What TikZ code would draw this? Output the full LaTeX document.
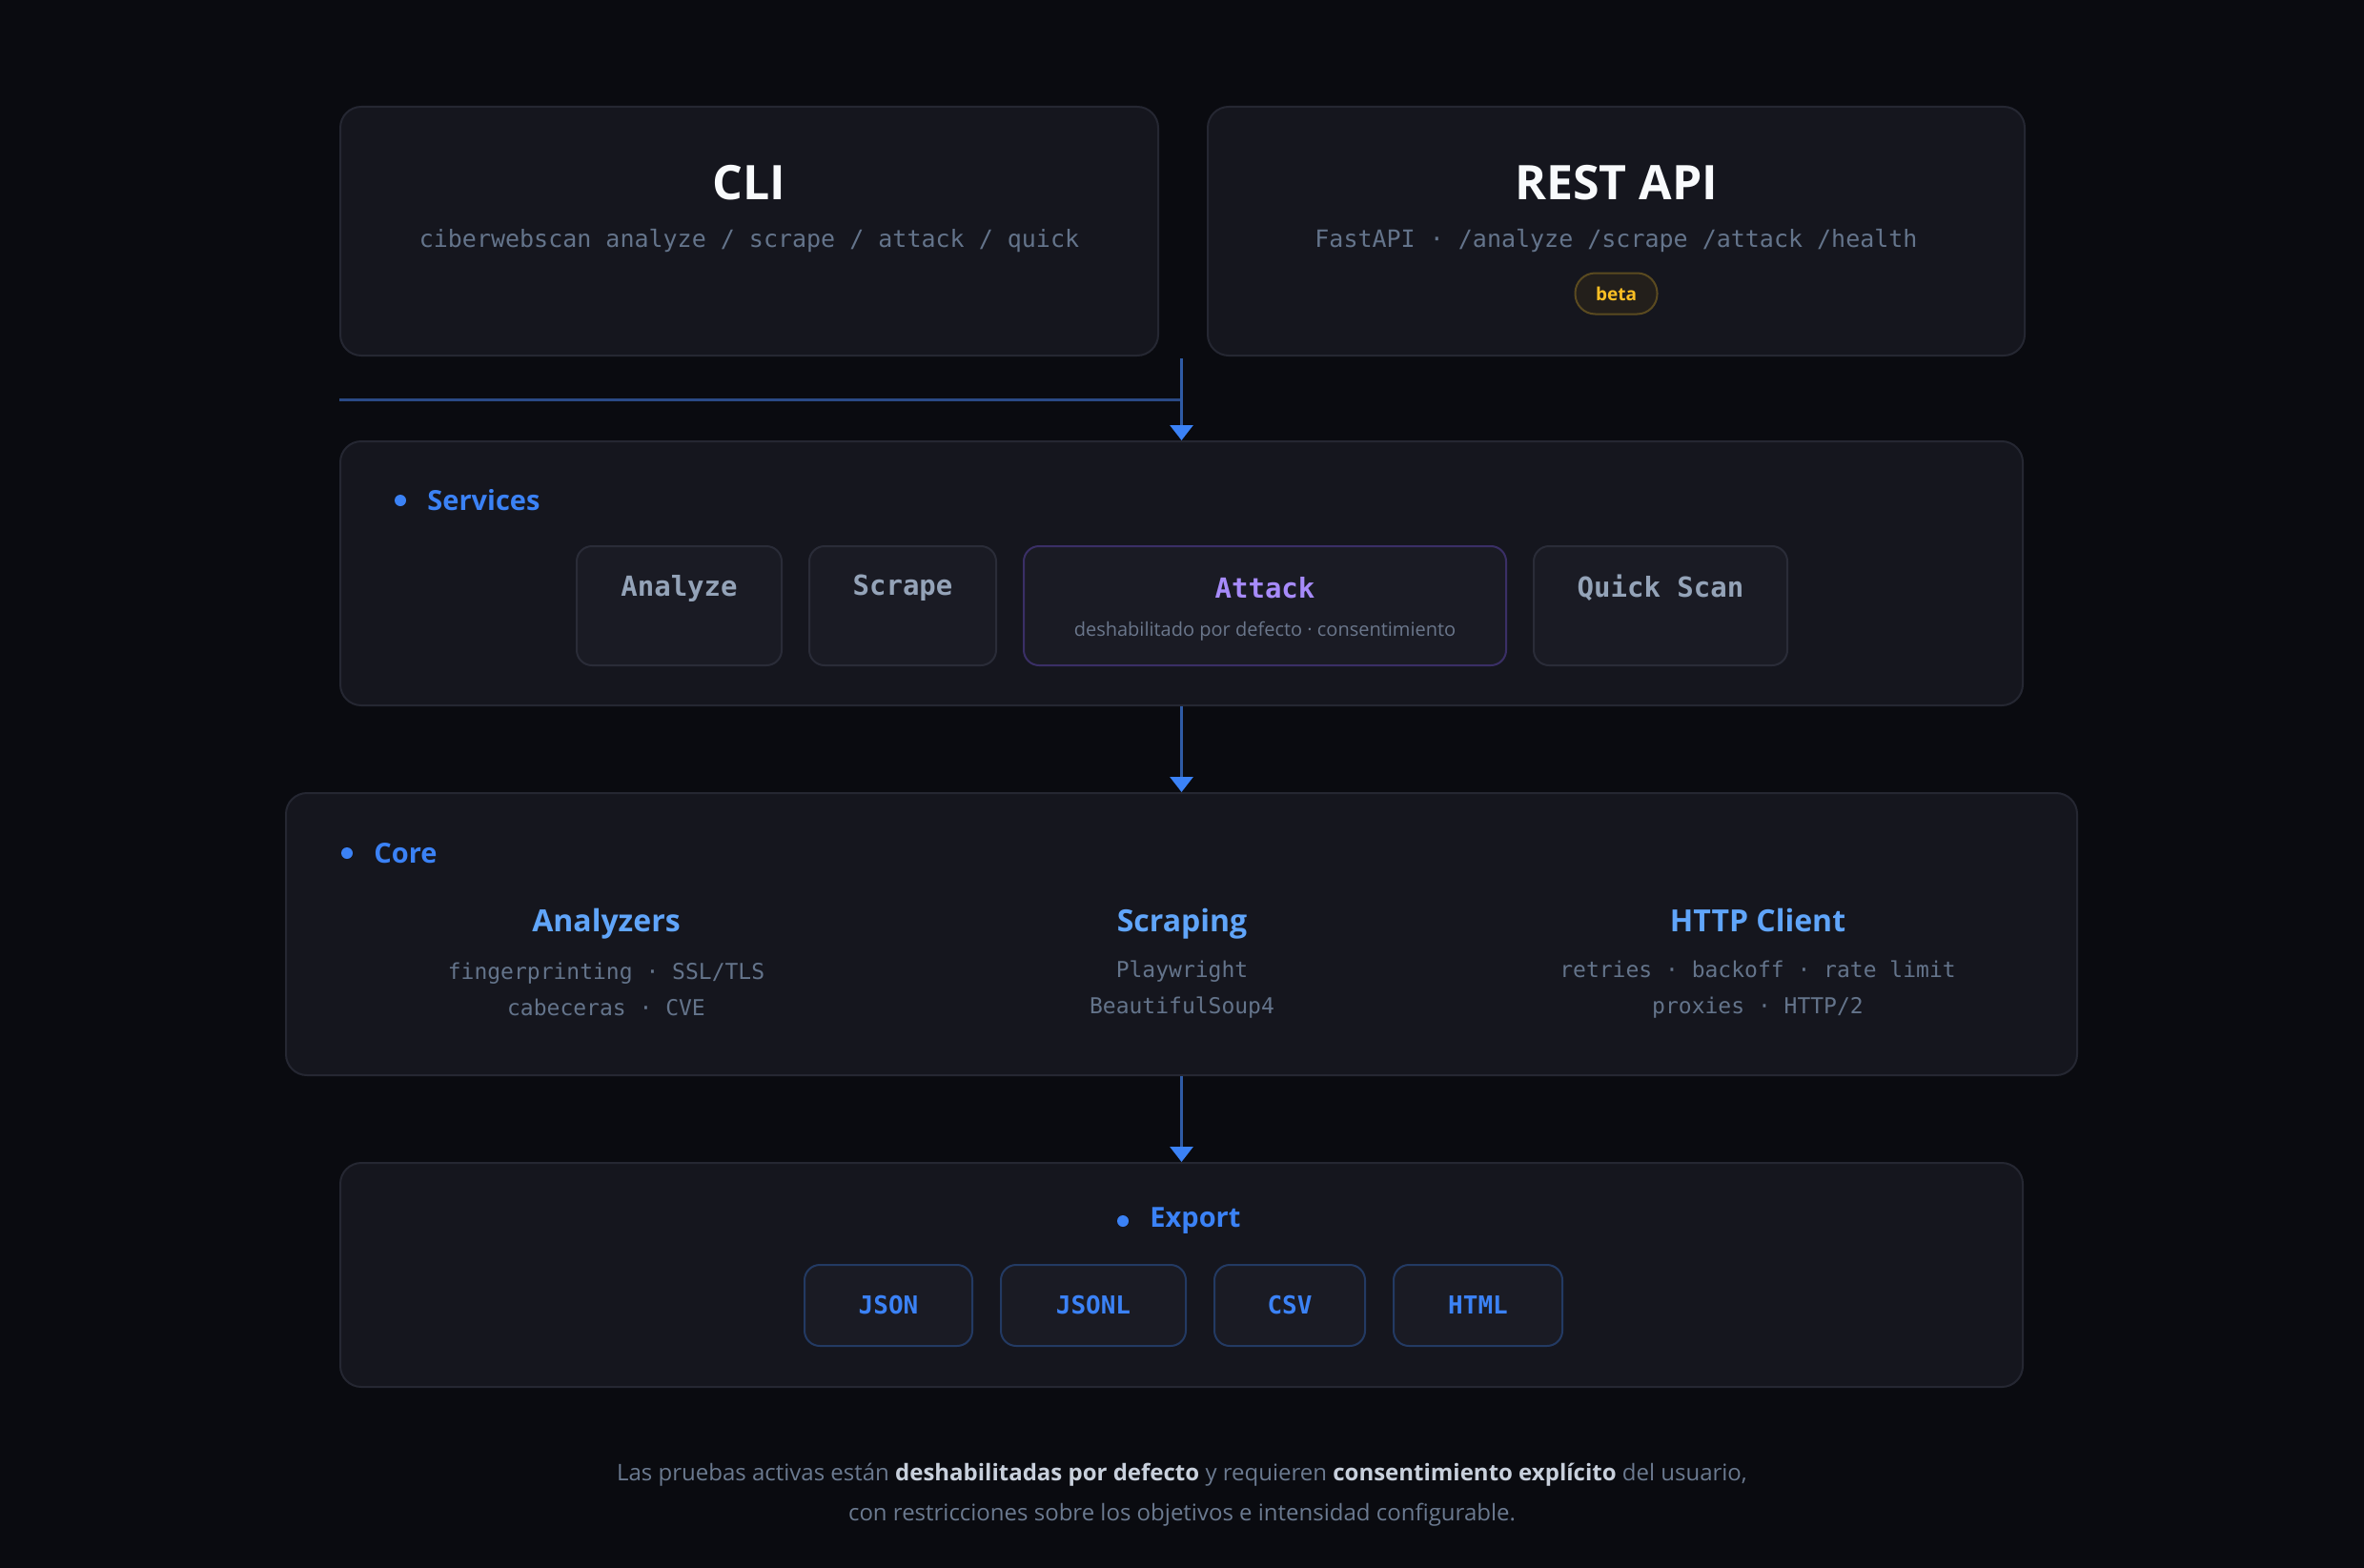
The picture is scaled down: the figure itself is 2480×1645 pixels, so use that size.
\documentclass[tikz,border=0pt]{standalone}
\usepackage{fontspec}
\setmainfont{Open Sans}
\setmonofont{DejaVu Sans Mono}
\usetikzlibrary{arrows.meta, positioning}

\definecolor{bg}{HTML}{0A0B10}
\definecolor{panelfill}{HTML}{15161E}
\definecolor{panelline}{HTML}{252732}
\definecolor{boxfill}{HTML}{1A1B24}
\definecolor{boxline}{HTML}{2A2C38}
\definecolor{attackline}{HTML}{3A2F66}
\definecolor{fmtline}{HTML}{233A63}
\definecolor{headwhite}{HTML}{F8FAFC}
\definecolor{cmdgray}{HTML}{64748B}
\definecolor{svcgray}{HTML}{94A3B8}
\definecolor{attackpurple}{HTML}{A78BFA}
\definecolor{subgray}{HTML}{6B778C}
\definecolor{sectionblue}{HTML}{3B82F6}
\definecolor{coreblue}{HTML}{60A5FA}
\definecolor{flowline}{HTML}{2F5BA5}
\definecolor{wireline}{HTML}{2A4A86}
\definecolor{betafill}{HTML}{231F1B}
\definecolor{betaline}{HTML}{5A4A20}
\definecolor{betatext}{HTML}{FBBF24}
\definecolor{notegray}{HTML}{6B7A90}
\definecolor{notebold}{HTML}{C8D0DC}

\tikzset{
    panel/.style={draw=panelline, fill=panelfill, line width=2pt, rounded corners=22pt},
    svcbox/.style={draw=boxline, fill=boxfill, line width=2pt, rounded corners=16pt, minimum height=125pt},
    fmtbox/.style={draw=fmtline, fill=boxfill, line width=2pt, rounded corners=16pt, minimum height=85pt,
        inner xsep=0pt, text=sectionblue, font=\fontsize{26pt}{32pt}\selectfont\ttfamily\bfseries},
    headtext/.style={text=headwhite, font=\fontsize{50pt}{60pt}\selectfont\bfseries},
    cmd/.style={text=cmdgray, font=\fontsize{25pt}{30pt}\selectfont\ttfamily},
    badge/.style={draw=betaline, fill=betafill, line width=2pt, rounded corners=21pt, minimum width=86pt,
        minimum height=43pt, text=betatext, font=\fontsize{19pt}{24pt}\selectfont\bfseries},
    dot/.style={circle, fill=sectionblue, minimum size=12pt, inner sep=0pt},
    section/.style={text=sectionblue, inner sep=0pt, font=\fontsize{29pt}{36pt}\selectfont\bfseries},
    svcname/.style={text=svcgray, font=\fontsize{29pt}{34pt}\selectfont\ttfamily\bfseries},
    svcnote/.style={text=subgray, font=\fontsize{20pt}{24pt}\selectfont},
    coretitle/.style={text=coreblue, anchor=base, font=\fontsize{32pt}{40pt}\selectfont\bfseries},
    coresub/.style={text=cmdgray, align=center, font=\fontsize{23pt}{38pt}\selectfont\ttfamily},
    footnote/.style={text=notegray, align=center, font=\fontsize{24pt}{42pt}\selectfont},
    flow/.style={draw=flowline, line width=3pt, -{Triangle[width=24pt, length=16pt, color=sectionblue]}},
    wire/.style={draw=wireline, line width=3pt}
}

\begin{document}
\begin{tikzpicture}[x=1pt, y=-1pt]
    % Background
    \fill[bg] (0,0) rectangle (2480,1645);
    \useasboundingbox (0,0) rectangle (2480,1645);

    % Entry points
    \node[panel, minimum width=858pt, minimum height=261pt] (cli) at (786,242.5) {};
    \node[panel, minimum width=857pt, minimum height=261pt, right=50pt of cli] (api) {};
    \node[headtext] (clititle) at ([yshift=-81pt]cli.north) {CLI};
    \node[cmd] (clicmd) at ([yshift=-142pt]cli.north) {ciberwebscan analyze / scrape / attack / quick};
    \node[headtext] (apititle) at ([yshift=-81pt]api.north) {REST API};
    \node[cmd] (apicmd) at ([yshift=-142pt]api.north) {FastAPI · /analyze /scrape /attack /health};
    \node[badge] (beta) at ([yshift=-197pt]api.north) {beta};

    % Services
    \node[panel, minimum width=1765pt, minimum height=277pt] (services) at (1239.5,601.5) {};
    \node[dot] (svcdot) at ([xshift=64pt, yshift=-63pt]services.north west) {};
    \node[section, right=22pt of svcdot] (svclabel) {Services};
    \node[svcbox, minimum width=215pt, anchor=north west] (analyze) at (604,572) {};
    \node[svcbox, minimum width=196pt, right=27pt of analyze] (scrape) {};
    \node[svcbox, draw=attackline, minimum width=506pt, right=27pt of scrape] (attack) {};
    \node[svcbox, minimum width=266pt, right=27pt of attack] (quick) {};
    \node[svcname] (analyzename) at ([yshift=-45pt]analyze.north) {Analyze};
    \node[svcname] (scrapename) at ([yshift=-45pt]scrape.north) {Scrape};
    \node[svcname, text=attackpurple] (attackname) at ([yshift=-45pt]attack.north) {Attack};
    \node[svcnote] (attacknote) at ([yshift=-90pt]attack.north) {deshabilitado por defecto · consentimiento};
    \node[svcname] (quickname) at ([yshift=-45pt]quick.north) {Quick Scan};

    % Core
    \node[panel, minimum width=1879pt, minimum height=296pt, below=90pt of services] (core) {};
    \node[dot] (coredot) at ([xshift=65pt, yshift=-64pt]core.north west) {};
    \node[section, right=22pt of coredot] (corelabel) {Core};
    \node[coretitle] (analyzers) at (636,977) {Analyzers};
    \node[coresub] (analyzerslist) at (636,1038) {fingerprinting · SSL/TLS\\cabeceras · CVE};
    \node[coretitle] (scraping) at (1240,977) {Scraping};
    \node[coresub] (scrapinglist) at (1240,1038) {Playwright\\BeautifulSoup4};
    \node[coretitle] (http) at (1844,977) {HTTP Client};
    \node[coresub] (httplist) at (1844,1038) {retries · backoff · rate limit\\proxies · HTTP/2};

    % Export
    \node[panel, minimum width=1765pt, minimum height=235pt, below=90pt of core] (export) {};
    \node[dot] (expdot) at (1178,1281) {};
    \node[section, right=22pt of expdot] (explabel) {Export};
    \node[fmtbox, minimum width=176pt, anchor=west] (json) at (843,1369.5) {JSON};
    \node[fmtbox, minimum width=194pt, right=28pt of json] (jsonl) {JSONL};
    \node[fmtbox, minimum width=158pt, right=28pt of jsonl] (csv) {CSV};
    \node[fmtbox, minimum width=177pt, right=28pt of csv] (html) {HTML};

    % Footer
    \node[footnote] (note) at (1240,1568) {Las pruebas activas están {\color{notebold}\bfseries deshabilitadas por defecto} y requieren {\color{notebold}\bfseries consentimiento explícito} del usuario,\\con restricciones sobre los objetivos e intensidad configurable.};

    % Connectors
    \coordinate (fork) at ([yshift=-2pt]services.north |- cli.south);
    \coordinate (wirestart) at ([yshift=-45pt]cli.south west);
    \coordinate (wireend) at (fork |- wirestart);
    \draw[wire] (wirestart) -- (wireend);
    \draw[flow] (fork) -- (services.north);
    \draw[flow] (services.south) -- (core.north);
    \draw[flow] (core.south) -- (export.north);
\end{tikzpicture}
\end{document}
